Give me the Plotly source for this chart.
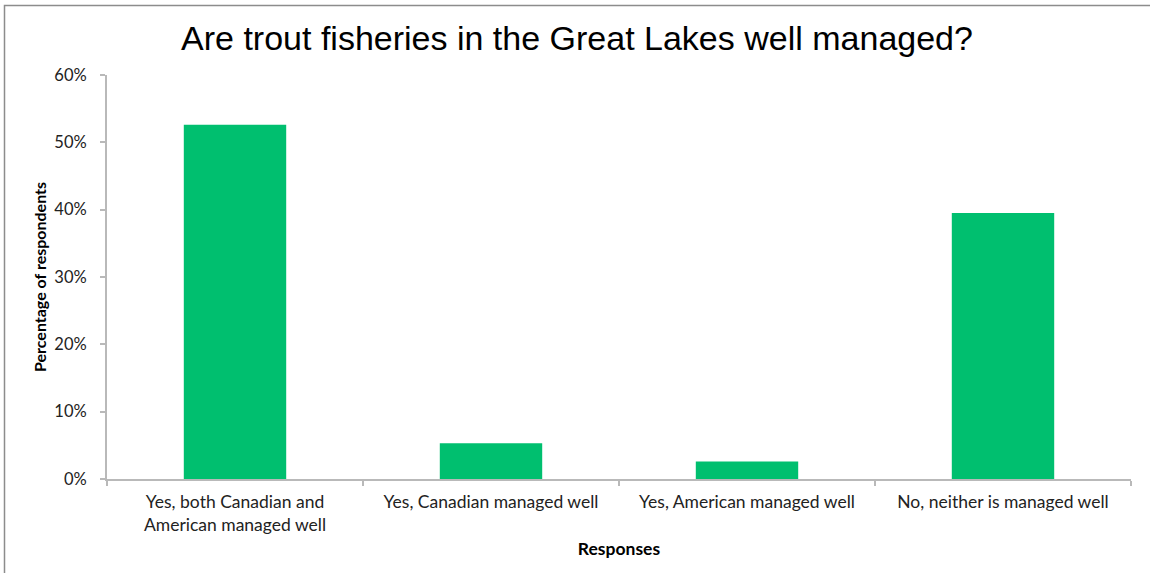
import plotly.graph_objects as go

categories = [
    "Yes, both Canadian and<br>American managed well",
    "Yes, Canadian managed well",
    "Yes, American managed well",
    "No, neither is managed well",
]
values = [0.526, 0.053, 0.026, 0.395]
y_ticks = [0, 0.1, 0.2, 0.3, 0.4, 0.5, 0.6]

BAR_COLOR = "#00BF6F"
AXIS_COLOR = "#B9B9B9"
FONT = "Lato, 'Noto Sans', sans-serif"

L, R, T, B = 107, 19, 75, 94
W, H = 1150, 573
pw, ph = W - L - R, H - T - B

fig = go.Figure(
    go.Bar(x=categories, y=values, marker=dict(color=BAR_COLOR, line=dict(width=0)))
)

fig.update_layout(
    width=W,
    height=H,
    margin=dict(l=L, r=R, t=T, b=B),
    paper_bgcolor="white",
    plot_bgcolor="white",
    bargap=0.6,
    showlegend=False,
    title=dict(
        text="Are trout fisheries in the Great Lakes well managed?",
        font=dict(family="'Liberation Sans', Arial, sans-serif", size=34, color="black"),
        x=577 / W,
        xanchor="center",
        y=1 - 38.5 / H,
        yanchor="middle",
    ),
    font=dict(family=FONT, size=17, color="#222222"),
)

fig.update_xaxes(
    showline=True,
    linecolor=AXIS_COLOR,
    linewidth=2,
    ticks="outside",
    tickson="boundaries",
    ticklen=5,
    tickcolor=AXIS_COLOR,
    tickwidth=1.5,
    showgrid=False,
    ticklabelstandoff=6,
    tickfont=dict(family=FONT, size=17.5, color="#222222"),
    title=dict(
        text="<b>Responses</b>",
        font=dict(family=FONT, size=17.5, color="black"),
        standoff=9,
    ),
)

fig.update_yaxes(
    range=[0, 0.6],
    tickvals=y_ticks,
    tickformat=".0%",
    showline=True,
    linecolor=AXIS_COLOR,
    linewidth=2,
    ticks="outside",
    ticklen=5,
    tickcolor=AXIS_COLOR,
    tickwidth=1.5,
    showgrid=False,
    zeroline=False,
    ticklabelstandoff=10,
    tickfont=dict(family=FONT, size=16.5, color="#222222"),
    title=dict(
        text="<b>Percentage of respondents</b>",
        font=dict(family=FONT, size=16, color="black"),
        standoff=4,
    ),
)

# outer chart frame
fig.add_shape(
    type="rect",
    xref="paper",
    yref="paper",
    x0=(4.5 - L) / pw,
    x1=(1160 - L) / pw,
    y0=(H - B - 590) / ph,
    y1=(H - B - 5.5) / ph,
    line=dict(color="#8C8C8C", width=1.5),
    fillcolor="rgba(0,0,0,0)",
    layer="above",
)

fig.write_html(
    "out.html",
    config={"displayModeBar": False},
    post_script="document.body.style.margin='0';",
)
